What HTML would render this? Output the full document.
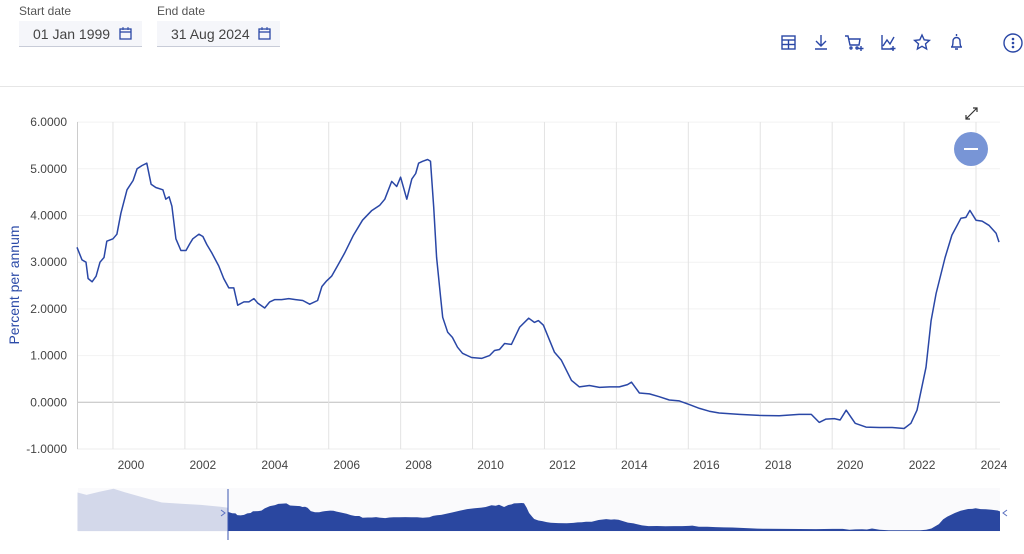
<!DOCTYPE html>
<html><head><meta charset="utf-8">
<style>
body{margin:0;width:1024px;height:554px;background:#fff;font-family:"Liberation Sans",sans-serif;overflow:hidden;position:relative}
.lbl{position:absolute;font-size:12px;color:#555}
.inp{position:absolute;top:21px;height:25px;background:#f5f6fa;border-bottom:1px solid #c8ccd8;font-size:14px;color:#444;line-height:26px}
</style></head><body>
<div class="lbl" style="left:19px;top:4px">Start date</div>
<div class="inp" style="left:19px;width:123px"><span style="margin-left:14px">01 Jan 1999</span>
<svg style="position:absolute;left:100px;top:6px" width="13" height="13"><rect x="1" y="2" width="11" height="10" fill="none" stroke="#2a47a6" stroke-width="1.3"/><line x1="1" y1="5" x2="12" y2="5" stroke="#2a47a6" stroke-width="1.3"/><line x1="4" y1="0" x2="4" y2="3" stroke="#2a47a6"/><line x1="9" y1="0" x2="9" y2="3" stroke="#2a47a6"/></svg></div>
<div class="lbl" style="left:157px;top:4px">End date</div>
<div class="inp" style="left:157px;width:123px"><span style="margin-left:14px">31 Aug 2024</span>
<svg style="position:absolute;left:101px;top:6px" width="13" height="13"><rect x="1" y="2" width="11" height="10" fill="none" stroke="#2a47a6" stroke-width="1.3"/><line x1="1" y1="5" x2="12" y2="5" stroke="#2a47a6" stroke-width="1.3"/><line x1="4" y1="0" x2="4" y2="3" stroke="#2a47a6"/><line x1="9" y1="0" x2="9" y2="3" stroke="#2a47a6"/></svg></div>
<div style="position:absolute;left:0;top:86px;width:1024px;height:1px;background:#e6e6e6"></div>
<svg width="1024" height="554" style="position:absolute;left:0;top:0" id="c">
<g stroke="#2a47a6" stroke-width="1.4" fill="none">
<g><rect x="782" y="36" width="13" height="13"/><line x1="782" y1="40" x2="795" y2="40"/><line x1="782" y1="44.5" x2="795" y2="44.5"/><line x1="788.5" y1="40" x2="788.5" y2="49"/></g>
<g><path d="M821 35v10M816 41l5 5 5-5M815 49h12"/></g>
<g><path d="M845 36h3l2 9h9l1-6h-11"/><circle cx="851" cy="48" r="1"/><circle cx="857" cy="48" r="1"/><path d="M861 46v5M858.5 48.5h5"/></g>
<g><path d="M882 35v14h12M883 46l4-6 3 4 4-7"/><path d="M893 46v5M890.5 48.5h5"/></g>
<g><path d="M922 35l2.2 4.8 5.2.6-3.9 3.5 1.1 5.1-4.6-2.7-4.6 2.7 1.1-5.1-3.9-3.5 5.2-.6z"/></g>
<g><path d="M951 47h11M952 47c1-2 1-3 1-6a3.5 3.5 0 0 1 7 0c0 3 0 4 1 6M955 49h3M956.5 34v2"/></g>
<g><circle cx="1013" cy="43" r="9"/></g>
</g>
<g fill="#2a47a6"><circle cx="1013" cy="39" r="1.3"/><circle cx="1013" cy="43" r="1.3"/><circle cx="1013" cy="47" r="1.3"/></g>
<g id="grid"></g>
<text transform="translate(19,285) rotate(-90)" text-anchor="middle" font-size="14" fill="#2c4ba8">Percent per annum</text>
<path id="line" fill="none" stroke="#2a47a6" stroke-width="1.5" stroke-linejoin="round"/>
<g stroke="#333" stroke-width="1.2" fill="none"><path d="M966 119l11-11M973 108h4v4M966 115v4h4"/></g>
<g><circle cx="971" cy="149" r="17" fill="#7895d6"/><line x1="964" y1="149" x2="978" y2="149" stroke="#fff" stroke-width="2"/></g>
<g id="nav"></g>
</svg>
<script>
const dates=[1999.00,1999.14,1999.25,1999.31,1999.42,1999.53,1999.64,1999.75,1999.83,2000.00,2000.11,2000.22,2000.39,2000.56,2000.67,2000.81,2000.94,2001.06,2001.19,2001.39,2001.47,2001.56,2001.64,2001.75,2001.89,2002.03,2002.14,2002.22,2002.39,2002.50,2002.61,2002.75,2002.94,2003.08,2003.22,2003.36,2003.47,2003.64,2003.78,2003.92,2004.03,2004.22,2004.36,2004.50,2004.69,2004.89,2005.08,2005.28,2005.47,2005.69,2005.81,2005.94,2006.08,2006.25,2006.44,2006.69,2006.94,2007.19,2007.42,2007.56,2007.75,2007.89,2008.00,2008.17,2008.31,2008.42,2008.50,2008.61,2008.75,2008.83,2008.92,2009.00,2009.11,2009.17,2009.31,2009.44,2009.58,2009.72,2009.97,2010.25,2010.47,2010.61,2010.75,2010.89,2011.08,2011.31,2011.56,2011.72,2011.83,2011.97,2012.28,2012.47,2012.75,2012.97,2013.25,2013.53,2013.81,2014.08,2014.31,2014.42,2014.64,2014.92,2015.19,2015.47,2015.75,2016.03,2016.31,2016.58,2016.86,2017.42,2017.97,2018.53,2019.08,2019.42,2019.64,2019.83,2020.06,2020.22,2020.39,2020.64,2020.94,2021.31,2021.67,2022.00,2022.19,2022.36,2022.61,2022.75,2022.89,2023.14,2023.33,2023.58,2023.72,2023.83,2024.00,2024.17,2024.36,2024.56,2024.64];
const values=[3.32,3.05,3.0,2.65,2.58,2.7,3.0,3.1,3.45,3.5,3.6,4.05,4.55,4.75,5.0,5.07,5.12,4.67,4.6,4.55,4.35,4.4,4.2,3.5,3.25,3.25,3.4,3.5,3.6,3.55,3.38,3.2,2.92,2.65,2.45,2.45,2.08,2.15,2.15,2.22,2.12,2.02,2.15,2.2,2.2,2.22,2.2,2.18,2.1,2.18,2.48,2.6,2.7,2.93,3.19,3.58,3.9,4.1,4.22,4.35,4.73,4.62,4.82,4.35,4.78,4.9,5.12,5.16,5.2,5.16,4.18,3.1,2.25,1.82,1.5,1.39,1.18,1.05,0.96,0.94,1.0,1.11,1.13,1.26,1.24,1.61,1.8,1.71,1.75,1.65,1.07,0.9,0.47,0.33,0.36,0.32,0.33,0.33,0.38,0.43,0.2,0.18,0.12,0.05,0.03,-0.05,-0.13,-0.19,-0.23,-0.26,-0.28,-0.29,-0.26,-0.26,-0.43,-0.36,-0.35,-0.38,-0.17,-0.45,-0.53,-0.54,-0.54,-0.56,-0.45,-0.17,0.75,1.75,2.33,3.1,3.58,3.94,3.96,4.11,3.9,3.88,3.79,3.62,3.43];
const yTicks=[6,5,4,3,2,1,0,-1];
const yTickLabels=["6.0000","5.0000","4.0000","3.0000","2.0000","1.0000","0.0000","-1.0000"];
const xTicks=[2000,2002,2004,2006,2008,2010,2012,2014,2016,2018,2020,2022,2024];
const preDates=[1994.0,1994.3,1994.75,1995.2,1995.6,1996.1,1996.45,1996.8,1997.45,1998.1,1998.75,1999.0];
const preValues=[7.4,6.9,7.6,8.2,7.4,6.5,5.9,5.3,5.05,4.8,4.4,4.2];
const NS='http://www.w3.org/2000/svg';
const x=t=>77+(t-1999)*35.96;
const y=v=>402.3-v*46.7;
const g=document.getElementById('grid');
function mk(tag,at,parent){const e=document.createElementNS(NS,tag);for(const k in at)e.setAttribute(k,at[k]);parent.appendChild(e);return e;}
yTicks.forEach((v,i)=>{
 const l=mk('line',{x1:77,x2:1000,y1:y(v),y2:y(v),stroke:v===0?'#bdbdbd':(v===-1?'#ececec':'#f2f2f2'),'stroke-width':1},g);
 
 
 const t=mk('text',{x:67,y:y(v)+4,'text-anchor':'end','font-size':12,fill:'#444'},g);t.textContent=yTickLabels[i];
 
 
});
const ax=mk('line',{x1:77.5,x2:77.5,y1:122,y2:449,stroke:'#ccc'},g);


xTicks.forEach(yr=>{
 const l=mk('line',{x1:x(yr),x2:x(yr),y1:122,y2:449,stroke:'#e3e3e3'},g);
 
 
 const t=mk('text',{x:x(yr+0.5),y:469,'text-anchor':'middle','font-size':12,fill:'#444'},g);t.textContent=yr;
 
 
});
document.getElementById('line').setAttribute('d',dates.map((t,i)=>(i?'L':'M')+x(t).toFixed(1)+' '+y(values[i]).toFixed(1)).join(''));
// navigator
const nav=document.getElementById('nav');
const nx=t=>228+(t-1999)*772/(2024.64-1999);
const ny=v=>531-(v+0.7)*4.75;
const bg=mk('rect',{x:78,y:488,width:922,height:44,fill:'#fafafc'},nav);


let p='M'+nx(preDates[0])+' 531'+preDates.map((t,i)=>'L'+nx(t).toFixed(1)+' '+ny(preValues[i]).toFixed(1)).join('')+'L228 531Z';
const a1=mk('path',{d:p,fill:'#d3d8ea'},nav);


p='M228 531'+dates.map((t,i)=>'L'+nx(t).toFixed(1)+' '+ny(values[i]).toFixed(1)).join('')+'L1000 531Z';
const a2=mk('path',{d:p,fill:'#2a47a0'},nav);


const h1=mk('line',{x1:228,x2:228,y1:489,y2:540,stroke:'#3b56b0','stroke-width':1},nav);


const c1=mk('path',{d:'M221 510l4 3-4 3',fill:'none',stroke:'#5a70c0'},nav);


const c2=mk('path',{d:'M1007 510l-4 3 4 3',fill:'none',stroke:'#5a70c0'},nav);


</script>
</body></html>
